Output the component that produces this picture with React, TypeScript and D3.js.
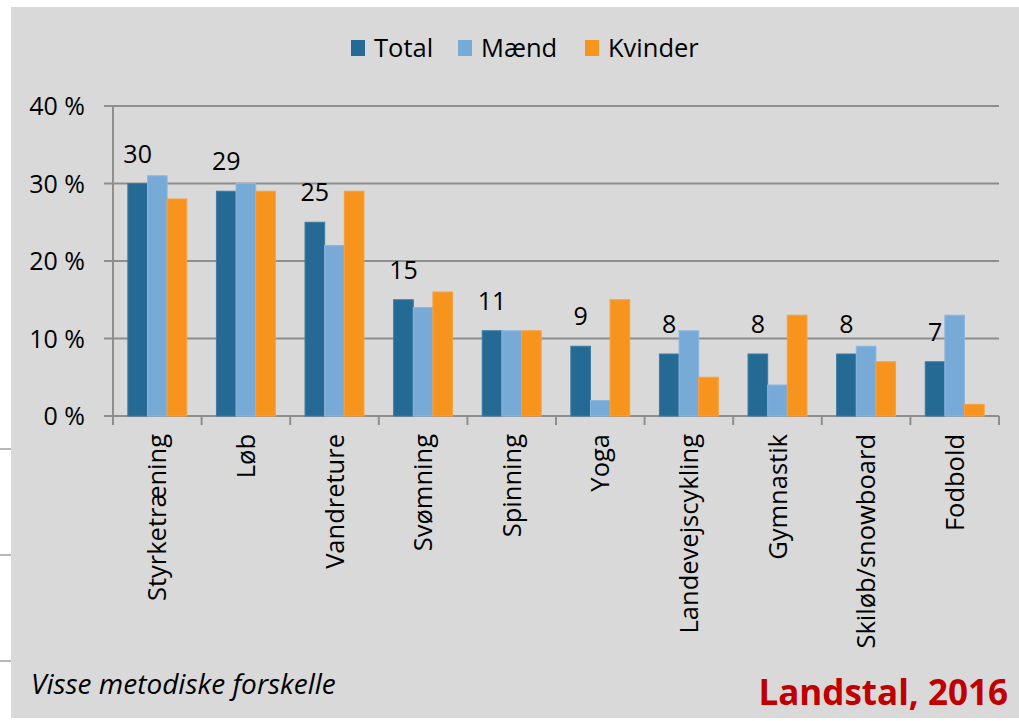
import React from "react";
import * as d3 from "d3";

const categories = ["Styrketræning", "Løb", "Vandreture", "Svømning", "Spinning", "Yoga", "Landevejscykling", "Gymnastik", "Skiløb/snowboard", "Fodbold"];
const seriesNames = ["Total", "Mænd", "Kvinder"];
const total = [30, 29, 25, 15, 11, 9, 8, 8, 8, 7];
const maend = [31, 30, 22, 14, 11, 2, 11, 4, 9, 13];
const kvinder = [28, 29, 29, 16, 11, 15, 5, 13, 7, 1.5];
const yTicks = [0, 10, 20, 30, 40];
const colors = ["#256a95", "#78aad8", "#f7941e"];

const W = 1019, H = 721;
const FONT = "'Open Sans', sans-serif";

export default function App() {
  const series = [total, maend, kvinder];
  const x = d3.scaleBand<string>().domain(categories).range([113, 999]).paddingInner(0).paddingOuter(0);
  const groupW = x.bandwidth() * 0.665;
  const xs = d3.scaleBand<string>().domain(seriesNames).range([0, groupW]);
  const y = d3.scaleLinear().domain([0, 40]).range([416, 106]);
  const grid = "#8e8e8e";

  return (
    <svg width={W} height={H} style={{ position: "absolute", left: 0, top: 0, display: "block" }}>
      <rect x={0} y={0} width={W} height={H} fill="#ffffff" />
      <rect x={11} y={7} width={W - 11} height={711} fill="#d9d9d9" />
      {[449, 555, 661].map((yy) => (
        <line key={yy} x1={0} x2={11} y1={yy} y2={yy} stroke="#a0a0a0" strokeWidth={1.5} />
      ))}
      {/* gridlines */}
      {yTicks.map((t) => (
        <g key={t}>
          <line x1={104} x2={999} y1={y(t)} y2={y(t)} stroke={grid} strokeWidth={2} />
          <text x={85} y={y(t)} dy="0.36em" textAnchor="end" fontFamily={FONT} fontSize={25} fill="#000">
            {t} %
          </text>
        </g>
      ))}
      {/* y axis */}
      <line x1={113} x2={113} y1={y(40)} y2={425} stroke={grid} strokeWidth={2} />
      {/* x ticks */}
      {categories.map((c) => (
        <line key={c} x1={x(c)!} x2={x(c)!} y1={416} y2={425} stroke={grid} strokeWidth={2} />
      ))}
      <line x1={999} x2={999} y1={416} y2={425} stroke={grid} strokeWidth={2} />
      {/* bars */}
      {categories.map((c, i) => {
        const gx = x(c)! + (x.bandwidth() - groupW) / 2;
        return (
          <g key={c}>
            {series.map((s, k) => (
              <rect
                key={k}
                x={gx + xs(seriesNames[k])!}
                y={y(s[i])}
                width={xs.bandwidth()}
                height={y(0) - y(s[i])}
                fill={colors[k]}
                stroke={k === 0 ? "#3d7aa3" : k === 1 ? "#8bb7df" : "#f8a040"}
                strokeWidth={1}
              />
            ))}
            <text
              x={gx + xs("Total")! + xs.bandwidth() / 2}
              y={y(total[i]) - 21}
              textAnchor="middle"
              fontFamily={FONT}
              fontSize={25}
              fill="#000"
            >
              {total[i]}
            </text>
            <text
              transform={`translate(${x(c)! + x.bandwidth() / 2},434) rotate(-90)`}
              textAnchor="end"
              dy="0.36em"
              fontFamily={FONT}
              fontSize={25.5}
              fill="#000"
            >
              {c}
            </text>
          </g>
        );
      })}
      {/* legend */}
      {seriesNames.map((n, k) => {
        const lx = [351, 458, 585][k];
        return (
          <g key={n}>
            <rect x={lx} y={40} width={14} height={16} fill={colors[k]} />
            <text x={lx + 23} y={48} dy="0.36em" fontFamily={FONT} fontSize={25.5} fill="#000">
              {n}
            </text>
          </g>
        );
      })}
      <text x={31} y={694} fontFamily={FONT} fontStyle="italic" fontSize={28} fill="#000">
        Visse metodiske forskelle
      </text>
      <text x={1008} y={705} textAnchor="end" fontFamily={FONT} fontWeight="bold" fontSize={35} fill="#c00000">
        Landstal, 2016
      </text>
    </svg>
  );
}
